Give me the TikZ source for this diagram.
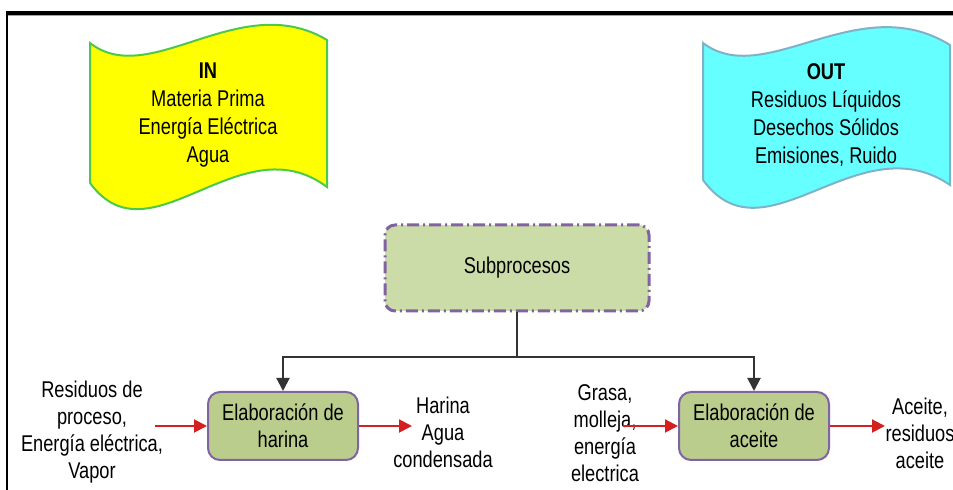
\documentclass[tikz,border=0pt]{standalone}
\usepackage{fontspec}
\setmainfont{Liberation Sans}[FakeStretch=0.8]
\usetikzlibrary{arrows.meta}
\definecolor{inyellow}{HTML}{FFFF00}
\definecolor{ingreen}{HTML}{4CC84C}
\definecolor{outcyan}{HTML}{66FFFF}
\definecolor{outblue}{HTML}{7FB2C8}
\definecolor{subgreen}{HTML}{CCDCA8}
\definecolor{progreen}{HTML}{BACD8C}
\definecolor{boxpurple}{HTML}{8064A2}
\definecolor{arrowred}{HTML}{D42020}

\begin{document}
\begin{tikzpicture}[x=0.5pt,y=0.5pt,
    txt/.style={align=center,font=\fontsize{11.4}{13.5}\selectfont},
    subbox/.style={draw=boxpurple,fill=subgreen,line width=1.5pt,rounded corners=5pt,
        dash pattern=on 6pt off 2pt on 1pt off 2pt,minimum width=132pt,minimum height=43pt,txt},
    probox/.style={draw=boxpurple,fill=progreen,line width=1pt,rounded corners=6pt,
        minimum width=75pt,minimum height=34pt,txt},
    redarrow/.style={draw=arrowred,line width=1pt,-{Triangle[length=6.5pt,width=6.5pt]}},
    blackarrow/.style={draw=black!80,line width=1pt,-{Triangle[length=6.5pt,width=6.5pt]}}]
    \useasboundingbox (0,0) rectangle (953,490);

    % frame
    \draw[line width=1pt] (7,0)--(7,477);
    \draw[line width=1.6pt] (6,477)--(953,477);
    \draw[black!35,line width=0.6pt] (8,474.5)--(953,474.5);

    % IN / OUT tapes
    \draw[fill=inyellow,draw=ingreen,line width=1pt]
        (90,447) .. controls (150,400) and (240,502) .. (327,450)
        -- (327,303) .. controls (240,368) and (150,225) .. (90,307) -- cycle;
    \draw[fill=outcyan,draw=outblue,line width=1pt]
        (703,447) .. controls (765,400) and (858,502) .. (950,445)
        -- (950,305) .. controls (858,368) and (765,225) .. (703,310) -- cycle;
    \node[txt,font=\fontsize{11.4}{14}\selectfont] (in) at (208,375)
        {\textbf{IN}\\Materia Prima\\Energía Eléctrica\\Agua};
    \node[txt,font=\fontsize{11.4}{14}\selectfont] (out) at (826,375)
        {\textbf{OUT}\\Residuos Líquidos\\Desechos Sólidos\\Emisiones, Ruido};

    % subprocesos
    \node[subbox] (sub) at (517,222) {Subprocesos};
    \node[probox] (harina) at (283,64) {Elaboración de\\harina};
    \node[probox] (aceite) at (754,64) {Elaboración de\\aceite};

    \coordinate (split) at (517,133);
    \draw[line width=1pt,black!80] (sub.south)--(split);
    \draw[blackarrow] (split)-|(harina.north);
    \draw[blackarrow] (split)-|(aceite.north);

    % entradas y salidas
    \node[txt] (resin) at (92,58) {Residuos de\\proceso,\\Energía eléctrica,\\Vapor};
    \node[txt] (harout) at (443,58) {Harina\\Agua\\condensada};
    \node[txt] (grasin) at (605,57) {Grasa,\\molleja,\\energía\\electrica};
    \node[txt] (aceout) at (920,57) {Aceite,\\residuos\\aceite};

    \coordinate (a1) at (155,64);
    \coordinate (a2) at (412,64);
    \coordinate (a3) at (623,64);
    \coordinate (a4) at (885,64);
    \draw[redarrow] (a1)--(harina.west);
    \draw[redarrow] (harina.east)--(a2);
    \draw[redarrow] (a3)--(aceite.west);
    \draw[redarrow] (aceite.east)--(a4);
\end{tikzpicture}
\end{document}
